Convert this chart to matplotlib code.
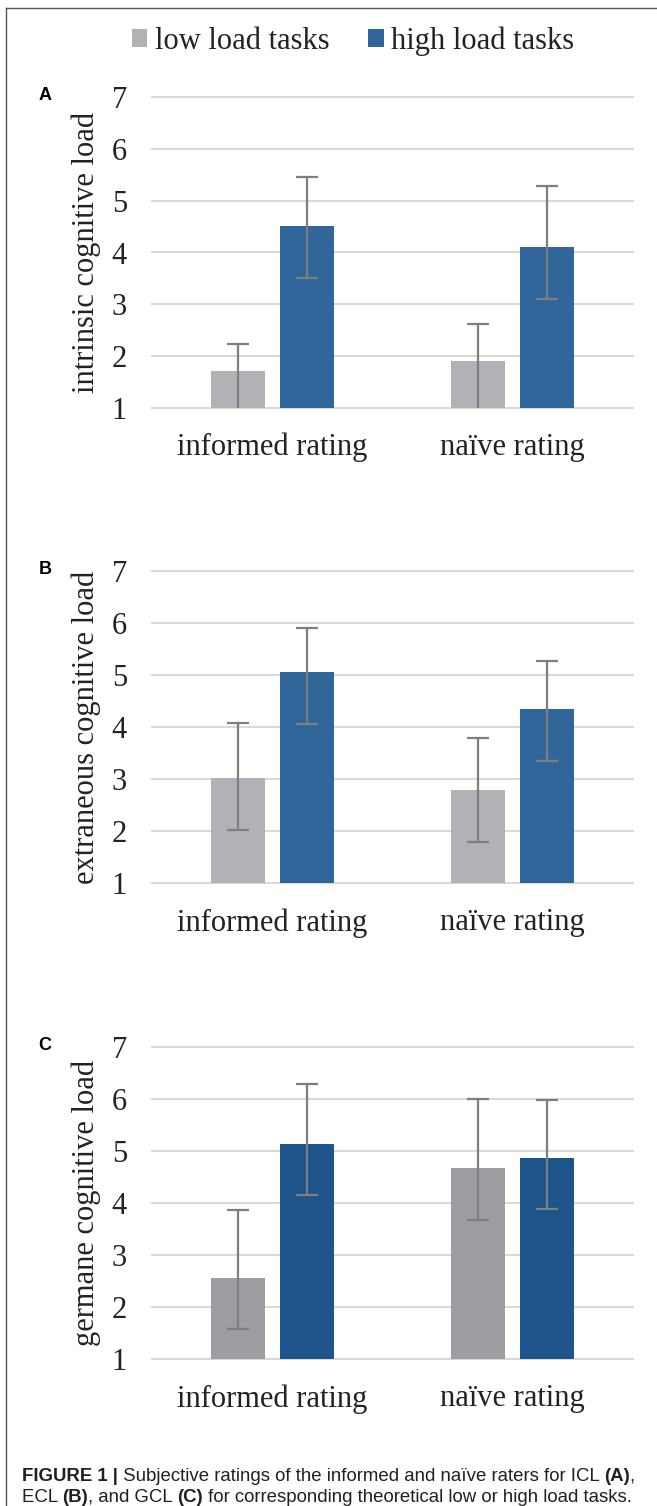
import matplotlib
matplotlib.use('Agg')
import matplotlib.pyplot as plt
from matplotlib.patches import Patch
from matplotlib.lines import Line2D
import numpy as np

# data
groups = ['informed rating', 'naïve rating']
series = ['low load tasks', 'high load tasks']
panels = ['A', 'B', 'C']
ylabels = ['intrinsic cognitive load', 'extraneous cognitive load', 'germane cognitive load']

low_mean = [[1.71, 1.90], [3.02, 2.79], [2.56, 4.68]]
high_mean = [[4.51, 4.10], [5.05, 4.34], [5.14, 4.87]]
low_err_up = [[0.53, 0.73], [1.06, 0.99], [1.30, 1.32]]
low_err_dn = [[0.95, 1.00], [1.00, 1.00], [0.99, 1.00]]
high_err_up = [[0.94, 1.18], [0.86, 0.93], [1.15, 1.11]]
high_err_dn = [[1.01, 1.00], [0.99, 1.00], [0.99, 0.99]]
yticks = [1, 2, 3, 4, 5, 6, 7]

low_colors = ['#b1b2b6', '#b1b2b6', '#9c9da1']
high_colors = ['#31669a', '#31669a', '#1d5489']

W, H = 657, 1506
fig = plt.figure(figsize=(W / 100, H / 100), dpi=100)

serif = 'Liberation Serif'
# plot area of each panel in pixels: top, bottom
boxes = [(97, 408), (571, 883), (1047, 1359)]
ax_left, ax_right = 152, 633

x = np.arange(len(groups))
off = 0.143
bw = 0.224

for i in range(3):
    top, bot = boxes[i]
    ax = fig.add_axes([ax_left / W, 1 - bot / H, (ax_right - ax_left) / W, (bot - top) / H])
    for t in yticks:
        ax.axhline(t, color='#d9d9d9', lw=1.5, zorder=0, clip_on=False)
    ax.bar(x - off, low_mean[i], bw, color=low_colors[i], zorder=2)
    ax.bar(x + off, high_mean[i], bw, color=high_colors[i], zorder=2)
    ax.errorbar(x - off, low_mean[i], yerr=[low_err_dn[i], low_err_up[i]], fmt='none',
                ecolor='#7f7f7f', elinewidth=1.6, capsize=8, capthick=1.6, zorder=3)
    ax.errorbar(x + off, high_mean[i], yerr=[high_err_dn[i], high_err_up[i]], fmt='none',
                ecolor='#7f7f7f', elinewidth=1.6, capsize=8, capthick=1.6, zorder=3)
    ax.set_xlim(-0.5, 1.5)
    ax.set_ylim(1, 7)
    ax.set_yticks(yticks)
    ax.set_yticklabels([str(t) for t in yticks], family=serif, fontsize=22, color='#222222')
    ax.set_xticks(x)
    ax.set_xticklabels(groups, family=serif, fontsize=22, color='#222222')
    ax.tick_params(axis='y', length=0, pad=18)
    ax.tick_params(axis='x', length=0, pad=18)
    for s in ax.spines.values():
        s.set_visible(False)
    ax.text(-0.137, 0.5, ylabels[i], transform=ax.transAxes, rotation=90,
            ha='center', va='center', family=serif, fontsize=22, color='#222222')
    fig.text(45 / W, 1 - (top - 2) / H, panels[i], ha='center', va='center',
             family='Liberation Sans', weight='bold', fontsize=13, color='black')

handles = [Patch(facecolor=low_colors[0]), Patch(facecolor=high_colors[0])]
fig.legend(handles, series, loc='center', bbox_to_anchor=(353 / W, 1 - 41 / H), ncol=2,
           frameon=False, prop={'family': serif, 'size': 22}, handlelength=0.52,
           handleheight=0.52, handletextpad=0.25, columnspacing=1.25, borderpad=0,
           labelcolor='#222222')

# frame lines
fig.add_artist(Line2D([6 / W, 6 / W], [0, 1 - 8 / H], color='#555555', lw=1))
fig.add_artist(Line2D([6 / W, 1], [1 - 8 / H, 1 - 8 / H], color='#555555', lw=1))

# caption, bold pieces chained after plain ones
cfs = 13.4
cap_font = 'Liberation Sans'
line1 = [('FIGURE 1 |', 'bold'), (' Subjective ratings of the informed and naïve raters for ICL ', 'normal'),
         ('(A)', 'bold'), (',', 'normal')]
line2 = [('ECL ', 'normal'), ('(B)', 'bold'), (', and GCL ', 'normal'), ('(C)', 'bold'),
         (' for corresponding theoretical low or high load tasks.', 'normal')]
for line, ypix in [(line1, 1485), (line2, 1506)]:
    last = None
    for txt, wt in line:
        if last is None:
            last = fig.text(22 / W, 1 - ypix / H, txt, family=cap_font, weight=wt,
                            fontsize=cfs, color='#231f20', va='bottom', ha='left')
        else:
            last = plt.annotate(txt, xy=(1, 0), xycoords=last, va='bottom', ha='left',
                                family=cap_font, weight=wt, fontsize=cfs, color='#231f20',
                                annotation_clip=False)

plt.savefig('out.png', dpi=100)
